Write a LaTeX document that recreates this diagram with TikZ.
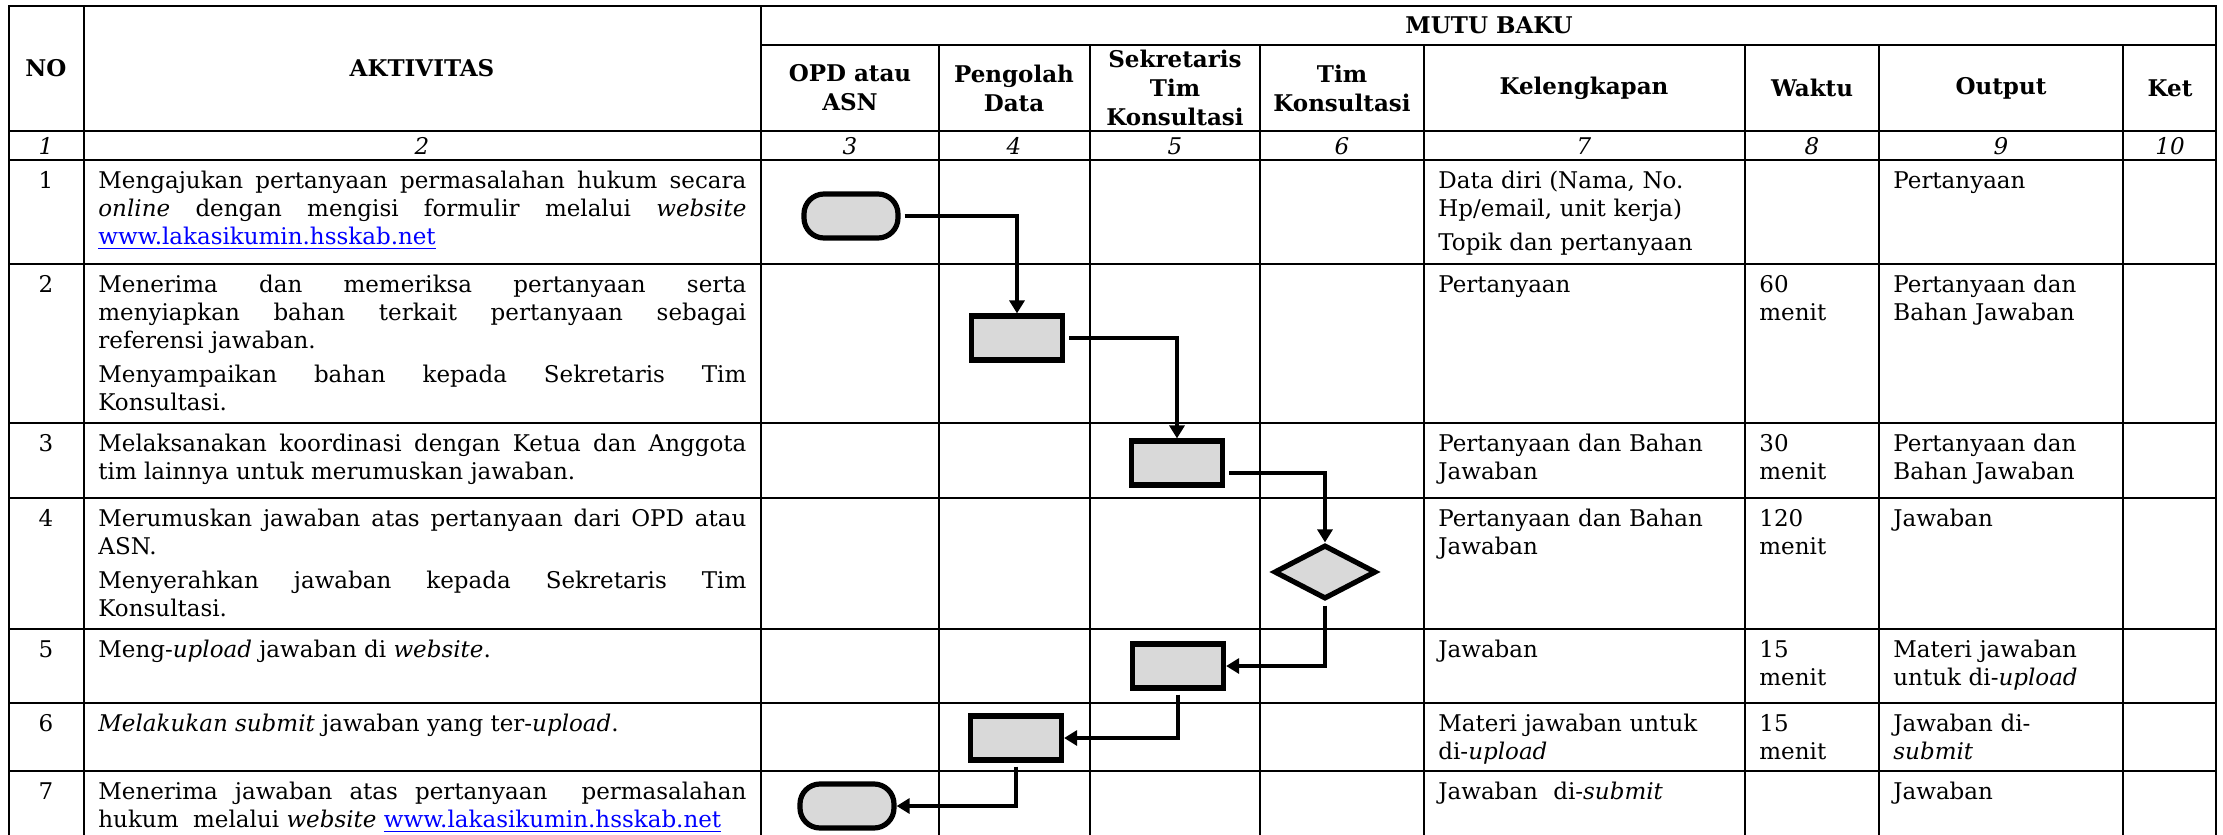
\documentclass[tikz,border=0pt]{standalone}
\usepackage{fontspec}
\setmainfont{DejaVu Serif}
\usetikzlibrary{arrows.meta,shapes.geometric}

\definecolor{boxgray}{RGB}{217,217,217}
\definecolor{linkblue}{RGB}{0,0,255}

\newcommand{\sitelink}{\textcolor{linkblue}{\underline{www.lakasikumin.hsskab.net}}}

\begin{document}
\begin{tikzpicture}[x=0.5pt,y=-0.5pt,
  rowline/.style={line width=1.4pt},
  colline/.style={line width=1pt},
  hdr/.style={font=\bfseries\fontsize{11.5}{14.5}\selectfont, align=center},
  numlab/.style={font=\itshape\fontsize{11.5}{14}\selectfont},
  cell/.style={anchor=north west, inner xsep=7pt, inner ysep=5.5pt, font=\fontsize{11.5}{14}\selectfont},
  nocell/.style={cell, anchor=north},
  akt/.style={cell, text width=324pt, align=justify},
  kel/.style={cell, text width=146pt, align=left},
  wkt/.style={cell, text width=53pt, align=left},
  outp/.style={cell, text width=108pt, align=left},
  procbox/.style={draw, line width=2.6pt, fill=boxgray, minimum width=45.5pt, minimum height=22pt, inner sep=0pt},
  termbox/.style={procbox, rounded corners=10pt, minimum width=47pt},
  decbox/.style={draw, line width=2.6pt, fill=boxgray, diamond, minimum width=51pt, minimum height=27pt, inner sep=0pt},
  flow/.style={line width=1.6pt, shorten <=2pt, -{Triangle[length=6.5pt,width=7.5pt]}}]

  \useasboundingbox (0,0) rectangle (2223,835);

  % --- horizontal rules ---
  \draw[rowline, line cap=rect] (9,6) -- (2216,6);
  \draw[rowline] (761,45) -- (2216,45);
  \foreach \y in {131,160,264,423,498,629,703,771}
    \draw[rowline] (9,\y) -- (2216,\y);

  % --- vertical rules ---
  \foreach \x in {9,84,761,2216}
    \draw[colline] (\x,6) -- (\x,840);
  \foreach \x in {939,1090,1260,1424,1745,1879,2123}
    \draw[colline] (\x,45) -- (\x,840);

  % --- header ---
  \node[hdr] (hno) at (46,68) {NO};
  \node[hdr] (hakt) at (422,68) {AKTIVITAS};
  \node[hdr] (hmutu) at (1489,25) {MUTU BAKU};
  \foreach \x/\lab [count=\i] in {850/{OPD atau\\ASN}, 1014/{Pengolah\\Data},
      1175/{Sekretaris\\Tim\\Konsultasi}, 1342/{Tim\\Konsultasi},
      1584/Kelengkapan, 1812/Waktu, 2001/Output, 2170/Ket}
    \node[hdr] (h\i) at (\x,88) {\lab};

  % --- column numbers 1..10 ---
  \foreach \x [count=\cnum] in {46,422,850,1014,1175,1342,1584,1812,2001,2170}
    \node[numlab] (c\cnum) at (\x,146) {\cnum};

  % --- row numbers ---
  \foreach \y [count=\r] in {160,264,423,498,629,703,771}
    \node[nocell] (no\r) at (46,\y) {\r};

  % --- aktivitas ---
  \node[akt] (a1) at (84,160) {Mengajukan pertanyaan permasalahan hukum secara\linebreak
    \textit{online} dengan mengisi formulir melalui \textit{website}\linebreak \sitelink};
  \node[akt] (a2) at (84,264) {Menerima dan memeriksa pertanyaan serta\linebreak
    menyiapkan bahan terkait pertanyaan sebagai\linebreak referensi jawaban.\par\vspace{3pt}
    Menyampaikan bahan kepada Sekretaris Tim\linebreak Konsultasi.};
  \node[akt] (a3) at (84,423) {Melaksanakan koordinasi dengan Ketua dan Anggota\linebreak
    tim lainnya untuk merumuskan jawaban.};
  \node[akt] (a4) at (84,498) {Merumuskan jawaban atas pertanyaan dari OPD atau\linebreak
    ASN.\par\vspace{3pt}Menyerahkan jawaban kepada Sekretaris Tim\linebreak Konsultasi.};
  \node[akt] (a5) at (84,629) {Meng-\textit{upload} jawaban di \textit{website}.};
  \node[akt] (a6) at (84,703) {\textit{Melakukan submit} jawaban yang ter-\textit{upload}.};
  \node[akt] (a7) at (84,771) {Menerima jawaban atas pertanyaan\ \ permasalahan\linebreak
    hukum\ \ melalui \textit{website} \sitelink};

  % --- kelengkapan ---
  \node[kel] (k1) at (1424,160) {Data diri (Nama, No.\\Hp/email, unit kerja)\par\vspace{3pt}Topik dan pertanyaan};
  \node[kel] (k2) at (1424,264) {Pertanyaan};
  \node[kel] (k3) at (1424,423) {Pertanyaan dan Bahan\\Jawaban};
  \node[kel] (k4) at (1424,498) {Pertanyaan dan Bahan\\Jawaban};
  \node[kel] (k5) at (1424,629) {Jawaban};
  \node[kel] (k6) at (1424,703) {Materi jawaban untuk\\di-\textit{upload}};
  \node[kel] (k7) at (1424,771) {Jawaban\ \ di-\textit{submit}};

  % --- waktu ---
  \node[wkt] (w2) at (1745,264) {60\\menit};
  \node[wkt] (w3) at (1745,423) {30\\menit};
  \node[wkt] (w4) at (1745,498) {120\\menit};
  \node[wkt] (w5) at (1745,629) {15\\menit};
  \node[wkt] (w6) at (1745,703) {15\\menit};

  % --- output ---
  \node[outp] (o1) at (1879,160) {Pertanyaan};
  \node[outp] (o2) at (1879,264) {Pertanyaan dan\\Bahan Jawaban};
  \node[outp] (o3) at (1879,423) {Pertanyaan dan\\Bahan Jawaban};
  \node[outp] (o4) at (1879,498) {Jawaban};
  \node[outp] (o5) at (1879,629) {Materi jawaban\\untuk di-\textit{upload}};
  \node[outp] (o6) at (1879,703) {Jawaban di-\\\textit{submit}};
  \node[outp] (o7) at (1879,771) {Jawaban};

  % --- flow symbols ---
  \node[termbox] (st) at (851,216) {};
  \node[procbox] (b2) at (1017,338) {};
  \node[procbox] (b3) at (1177,463) {};
  \node[decbox]  (dc) at (1325,572) {};
  \node[procbox] (b5) at (1178,666) {};
  \node[procbox] (b6) at (1016,738) {};
  \node[termbox] (en) at (847,806) {};

  % --- connectors ---
  \draw[flow] (st.east) -| (b2.north);
  \draw[flow] (b2.east) -| (b3.north);
  \draw[flow] ([yshift=-5pt]b3.east) -| (dc.north);
  \draw[flow] (dc.south) |- (b5.east);
  \draw[flow] (b5.south) |- (b6.east);
  \draw[flow] (b6.south) |- (en.east);
\end{tikzpicture}
\end{document}
